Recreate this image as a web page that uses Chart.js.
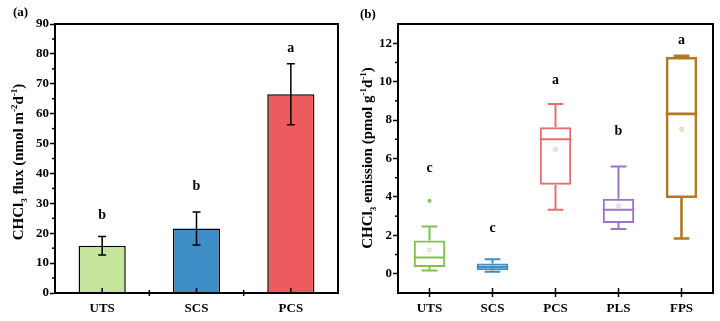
<!DOCTYPE html>
<html>
<head>
<meta charset="utf-8">
<script src="https://cdn.jsdelivr.net/npm/chart.js@4/dist/chart.umd.min.js"></script>
<style>
  html, body { margin: 0; padding: 0; background: #fff; }
  #wrap { position: relative; width: 720px; height: 321px; }
  canvas { position: absolute; top: 0; }
</style>
</head>
<body>
<div id="wrap">
  <canvas id="fluxChart" width="360" height="321" style="left:0"></canvas>
  <canvas id="emisChart" width="360" height="321" style="left:360px"></canvas>
</div>
<script>
// (a) CHCl3 flux, mean ± SD
const fluxCategories = ['UTS', 'SCS', 'PCS'];
const fluxMean = [15.8, 21.6, 66.5];
const fluxSD = [3.1, 5.5, 10.2];
const fluxLetters = ['b', 'b', 'a'];
const fluxLetterAt = [26, 35.6, 81.7];
const fluxTicks = [0, 10, 20, 30, 40, 50, 60, 70, 80, 90];

// (b) CHCl3 emission, box statistics
const emisCategories = ['UTS', 'SCS', 'PCS', 'PLS', 'FPS'];
const emisMin = [0.17, 0.10, 3.33, 2.33, 1.84];
const emisQ1 = [0.35, 0.19, 4.64, 2.64, 3.94];
const emisMedian = [0.85, 0.35, 7.00, 3.33, 8.32];
const emisQ3 = [1.73, 0.54, 7.62, 3.90, 11.29];
const emisMax = [2.46, 0.76, 8.84, 5.59, 11.35];
const emisMean = [1.25, 0.38, 6.47, 3.54, 7.52];
const emisOutliers = [[3.8], [], [], [], []];
const emisLetters = ['c', 'c', 'a', 'b', 'a'];
const emisLetterAt = [5.47, 2.36, 10.05, 7.41, 12.14];
const emisTicks = [0, 2, 4, 6, 8, 10, 12];

const FONT = '"Liberation Serif", "Times New Roman", serif';
const fluxColors = ['#c6e59c', '#3d8ec6', '#ee5b5e'];
const emisColors = ['#82c24c', '#3f8fc4', '#e3706f', '#9b74c6', '#b07a22'];
const emisLineWidths = [2, 2, 2, 2, 2.6];

Chart.defaults.font.family = FONT;
Chart.defaults.color = '#000';

// Rotated axis title with sub/superscripts
function drawVerticalTitle(ctx, parts, cx, cy, size) {
  const big = `bold ${size}px ${FONT}`;
  const small = `bold ${Math.round(size * 0.62)}px ${FONT}`;
  ctx.save();
  ctx.translate(cx, cy);
  ctx.rotate(-Math.PI / 2);
  ctx.fillStyle = '#000';
  ctx.textBaseline = 'alphabetic';
  ctx.textAlign = 'left';
  let total = 0;
  parts.forEach(p => { ctx.font = p.s ? small : big; total += ctx.measureText(p.t).width; });
  let x = -total / 2;
  const base = size * 0.35;
  parts.forEach(p => {
    ctx.font = p.s ? small : big;
    let dy = 0;
    if (p.s === 'sub') dy = size * 0.22;
    if (p.s === 'sup') dy = -size * 0.42;
    ctx.fillText(p.t, x, base + dy);
    x += ctx.measureText(p.t).width;
  });
  ctx.restore();
}

function drawFrame(chart) {
  const { ctx, chartArea: a } = chart;
  ctx.save();
  ctx.strokeStyle = '#000';
  ctx.lineWidth = 2;
  ctx.strokeRect(a.left, a.top, a.right - a.left, a.bottom - a.top);
  ctx.restore();
}

function drawMinorY(chart, values) {
  const { ctx, chartArea: a, scales: { y } } = chart;
  ctx.save();
  ctx.strokeStyle = '#000';
  ctx.lineWidth = 1.5;
  values.forEach(v => {
    const py = y.getPixelForValue(v);
    ctx.beginPath();
    ctx.moveTo(a.left - 3, py);
    ctx.lineTo(a.left, py);
    ctx.stroke();
  });
  ctx.restore();
}

function drawLetters(chart, letters, at) {
  const { ctx, scales: { x, y } } = chart;
  ctx.save();
  ctx.font = `bold 14px ${FONT}`;
  ctx.textAlign = 'center';
  ctx.textBaseline = 'middle';
  ctx.fillStyle = '#000';
  letters.forEach((l, i) => ctx.fillText(l, x.getPixelForValue(i), y.getPixelForValue(at[i])));
  ctx.restore();
}

function drawPanelTag(chart, text, px, py) {
  const ctx = chart.ctx;
  ctx.save();
  ctx.font = `bold 13px ${FONT}`;
  ctx.textAlign = 'left';
  ctx.textBaseline = 'middle';
  ctx.fillStyle = '#000';
  ctx.fillText(text, px, py);
  ctx.restore();
}

function yAxis(min, max, ticks, width) {
  return {
    min, max,
    afterBuildTicks: s => { s.ticks = ticks.map(v => ({ value: v })); },
    afterFit: s => { s.width = width; },
    border: { display: true, color: '#000', width: 2 },
    grid: { display: true, drawOnChartArea: false, drawTicks: true, tickLength: 5, tickWidth: 1.5, tickColor: '#000' },
    ticks: { padding: 1, font: { size: 13, weight: 'bold', family: FONT }, color: '#000' }
  };
}

function xAxis() {
  return {
    afterFit: s => { s.height = 28; },
    border: { display: true, color: '#000', width: 2 },
    grid: { display: false, drawTicks: false },
    ticks: { padding: 8, font: { size: 13, weight: 'bold', family: FONT }, color: '#000' }
  };
}

// ---------- (a) bar chart with error bars ----------
const fluxDecor = {
  id: 'fluxDecor',
  afterDatasetsDraw(chart) {
    const { ctx, scales: { x, y } } = chart;
    ctx.save();
    ctx.strokeStyle = '#000';
    ctx.lineWidth = 1.5;
    fluxMean.forEach((m, i) => {
      const px = x.getPixelForValue(i);
      const top = y.getPixelForValue(m + fluxSD[i]);
      const bot = y.getPixelForValue(m - fluxSD[i]);
      ctx.beginPath();
      ctx.moveTo(px, top); ctx.lineTo(px, bot);
      ctx.moveTo(px - 4, top); ctx.lineTo(px + 4, top);
      ctx.moveTo(px - 4, bot); ctx.lineTo(px + 4, bot);
      ctx.stroke();
    });
    ctx.restore();
  },
  afterDraw(chart) {
    const { ctx, chartArea: a, scales: { x } } = chart;
    drawFrame(chart);
    drawMinorY(chart, [5, 15, 25, 35, 45, 55, 65, 75, 85]);
    ctx.save();
    ctx.strokeStyle = '#000';
    ctx.lineWidth = 1.5;
    fluxCategories.forEach((c, i) => {
      const px = x.getPixelForValue(i);
      ctx.beginPath(); ctx.moveTo(px, a.bottom); ctx.lineTo(px, a.bottom - 5); ctx.stroke();
      if (i > 0) {
        const bx = (px + x.getPixelForValue(i - 1)) / 2;
        ctx.beginPath(); ctx.moveTo(bx, a.bottom - 3); ctx.lineTo(bx, a.bottom + 3); ctx.stroke();
      }
    });
    ctx.restore();
    drawLetters(chart, fluxLetters, fluxLetterAt);
    drawPanelTag(chart, '(a)', 13, 13);
    drawVerticalTitle(chart.ctx, [
      { t: 'CHCl' }, { t: '3', s: 'sub' }, { t: ' flux (nmol m' }, { t: '-2', s: 'sup' },
      { t: 'd' }, { t: '-1', s: 'sup' }, { t: ')' }
    ], 18, 162, 15);
  }
};

new Chart(document.getElementById('fluxChart'), {
  type: 'bar',
  data: {
    labels: fluxCategories,
    datasets: [{
      data: fluxMean,
      backgroundColor: fluxColors,
      borderColor: '#000',
      borderWidth: 1.5,
      barPercentage: 0.5,
      categoryPercentage: 1
    }]
  },
  options: {
    responsive: false,
    animation: false,
    devicePixelRatio: 1,
    layout: { padding: { left: 0, top: 24, right: 22, bottom: 0 } },
    plugins: { legend: { display: false }, tooltip: { enabled: false } },
    scales: { x: xAxis(), y: yAxis(0, 90, fluxTicks, 55) }
  },
  plugins: [fluxDecor]
});

// ---------- (b) box plot ----------
const emisDecor = {
  id: 'emisDecor',
  afterDatasetsDraw(chart) {
    const { ctx, scales: { x, y } } = chart;
    const meta = chart.getDatasetMeta(0);
    ctx.save();
    emisCategories.forEach((c, i) => {
      const px = x.getPixelForValue(i);
      const hw = meta.data[i].width / 2;
      const cap = hw * 0.5;
      const col = emisColors[i];
      ctx.strokeStyle = col;
      ctx.lineWidth = emisLineWidths[i];
      ctx.beginPath();
      // median
      ctx.moveTo(px - hw, y.getPixelForValue(emisMedian[i]));
      ctx.lineTo(px + hw, y.getPixelForValue(emisMedian[i]));
      // whiskers
      ctx.moveTo(px, y.getPixelForValue(emisQ3[i])); ctx.lineTo(px, y.getPixelForValue(emisMax[i]));
      ctx.moveTo(px, y.getPixelForValue(emisQ1[i])); ctx.lineTo(px, y.getPixelForValue(emisMin[i]));
      ctx.moveTo(px - cap, y.getPixelForValue(emisMax[i])); ctx.lineTo(px + cap, y.getPixelForValue(emisMax[i]));
      ctx.moveTo(px - cap, y.getPixelForValue(emisMin[i])); ctx.lineTo(px + cap, y.getPixelForValue(emisMin[i]));
      ctx.stroke();
      // mean marker
      ctx.lineWidth = 0.8;
      ctx.globalAlpha = 0.55;
      const my = y.getPixelForValue(emisMean[i]);
      ctx.strokeRect(px - 1.5, my - 1.5, 3, 3);
      ctx.globalAlpha = 1;
      // outliers
      ctx.fillStyle = col;
      emisOutliers[i].forEach(v => {
        ctx.beginPath();
        ctx.arc(px, y.getPixelForValue(v), 2, 0, Math.PI * 2);
        ctx.fill();
      });
    });
    ctx.restore();
  },
  afterDraw(chart) {
    const { ctx, chartArea: a, scales: { x } } = chart;
    drawFrame(chart);
    drawMinorY(chart, [1, 3, 5, 7, 9, 11]);
    ctx.save();
    ctx.strokeStyle = '#000';
    ctx.lineWidth = 1.5;
    emisCategories.forEach((c, i) => {
      const px = x.getPixelForValue(i);
      ctx.beginPath(); ctx.moveTo(px, a.bottom - 5); ctx.lineTo(px, a.bottom + 4); ctx.stroke();
    });
    ctx.restore();
    drawLetters(chart, emisLetters, emisLetterAt);
    drawPanelTag(chart, '(b)', 0, 15);
    drawVerticalTitle(chart.ctx, [
      { t: 'CHCl' }, { t: '3', s: 'sub' }, { t: ' emission (pmol g' }, { t: '-1', s: 'sup' },
      { t: 'd' }, { t: '-1', s: 'sup' }, { t: ')' }
    ], 7, 158, 15);
  }
};

new Chart(document.getElementById('emisChart'), {
  type: 'bar',
  data: {
    labels: emisCategories,
    datasets: [{
      data: emisQ1.map((q, i) => [q, emisQ3[i]]),
      backgroundColor: 'rgba(255,255,255,0)',
      borderColor: emisColors,
      borderWidth: emisLineWidths,
      borderSkipped: false,
      barPercentage: 0.5,
      categoryPercentage: 1
    }]
  },
  options: {
    responsive: false,
    animation: false,
    devicePixelRatio: 1,
    layout: { padding: { left: 0, top: 24, right: 7, bottom: 0 } },
    plugins: { legend: { display: false }, tooltip: { enabled: false } },
    scales: { x: xAxis(), y: yAxis(-1, 13, emisTicks, 38) }
  },
  plugins: [emisDecor]
});
</script>
</body>
</html>
